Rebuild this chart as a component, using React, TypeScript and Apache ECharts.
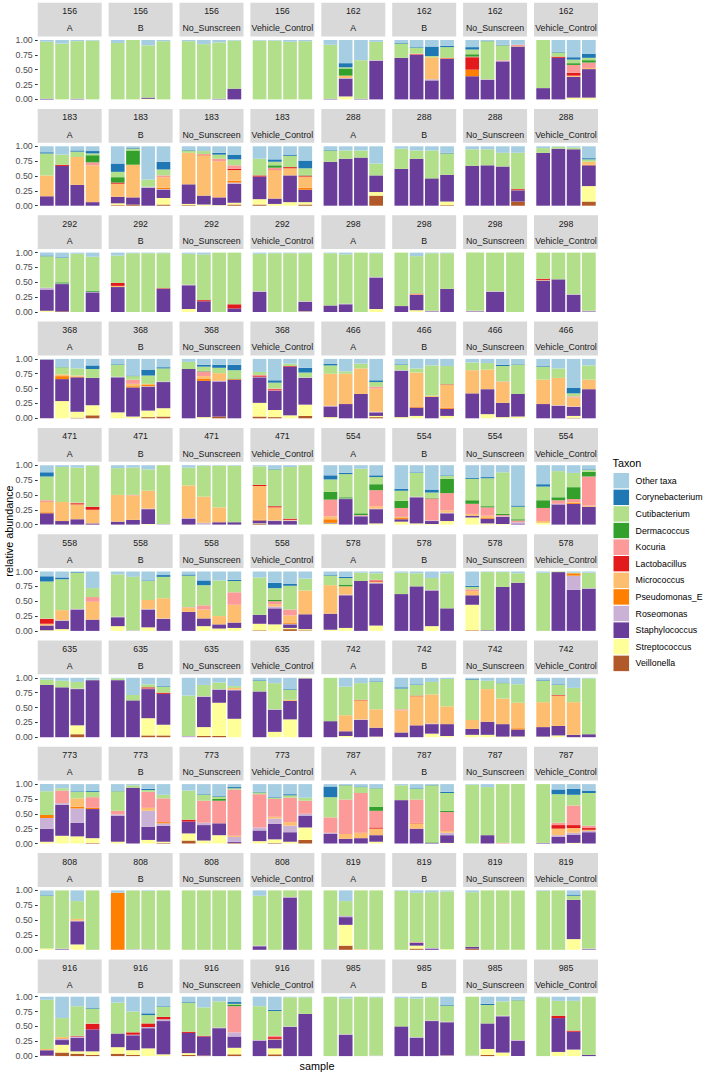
import { useEffect, useRef } from 'react';
import * as echarts from 'echarts';

type Bar = Record<string, number>;

// Taxa in legend order (top of each stack first)
const TAXA = ['Other taxa', 'Corynebacterium', 'Cutibacterium', 'Dermacoccus', 'Kocuria', 'Lactobacillus', 'Micrococcus', 'Pseudomonas_E', 'Roseomonas', 'Staphylococcus', 'Streptococcus', 'Veillonella'];
const TAXON_CODES = ['O', 'Co', 'Cu', 'D', 'K', 'L', 'M', 'P', 'R', 'S', 'St', 'V'];
const TAXON_COLORS = ['#A6CEE3', '#1F78B4', '#B2DF8A', '#33A02C', '#FB9A99', '#E31A1C', '#FDBF6F', '#FF7F00', '#CAB2D6', '#6A3D9A', '#FFFF99', '#B15928'];
const TREATMENTS = ['A', 'B', 'No_Sunscreen', 'Vehicle_Control'];
const SUBJECTS = ['156', '162', '183', '288', '292', '298', '368', '466', '471', '554', '558', '578', '635', '742', '773', '787', '808', '819', '916', '985'];
const Y_TICKS = [0, 0.25, 0.5, 0.75, 1];

// Relative abundance per subject: [A, B, No_Sunscreen, Vehicle_Control], one object per sample
const subj156: Bar[][] = [
  [{ S: .01, Cu: .96, O: .03 }, { Cu: .94, O: .06 }, { S: .01, Cu: .97, O: .02 }, { Cu: .99, O: .01 }],
  [{ Cu: .95, O: .05 }, { Cu: 1 }, { St: .01, S: .02, Cu: .88, O: .09 }, { Cu: .98, O: .02 }],
  [{ Cu: .98, O: .02 }, { Cu: .93, O: .07 }, { S: .01, Cu: .95, O: .04 }, { S: .18, Cu: .81, O: .01 }],
  [{ Cu: .99, O: .01 }, { Cu: .99, O: .01 }, { Cu: .97, O: .03 }, { Cu: .98, O: .02 }],
];
const subj162: Bar[][] = [
  [{ S: .01, Cu: .91, O: .08 }, { St: .05, S: .30, R: .01, M: .04, D: .12, Cu: .02, Co: .07, O: .39 }, { S: .01, Cu: .65, O: .34 }, { S: .65, R: .01, Cu: .31, O: .03 }],
  [{ S: .70, Cu: .24, Co: .01, O: .05 }, { S: .75, L: .01, K: .01, Cu: .10, Co: .01, O: .12 }, { S: .32, R: .02, M: .37, Cu: .02, Co: .16, O: .11 }, { S: .68, M: .01, L: .01, Cu: .18, Co: .02, O: .10 }],
  [{ S: .39, P: .11, L: .21, K: .01, D: .04, Cu: .08, Co: .04, O: .12 }, { S: .33, R: .01, Cu: .64, Co: .01, O: .01 }, { S: .64, R: .01, K: .01, Cu: .25, Co: .01, O: .08 }, { S: .89, M: .01, K: .02, O: .08 }],
  [{ S: .19, Cu: .81 }, { S: .70, L: .02, Cu: .07, Co: .01, O: .20 }, { St: .03, S: .35, M: .02, L: .05, K: .13, D: .03, Cu: .06, Co: .04, O: .29 }, { St: .03, S: .48, M: .02, K: .09, D: .04, Cu: .04, Co: .07, O: .23 }],
];
const subj183: Bar[][] = [
  [{ S: .16, M: .35, Cu: .37, Co: .02, O: .10 }, { S: .67, L: .02, Cu: .17, O: .14 }, { S: .35, M: .47, Cu: .09, Co: .02, O: .07 }, { S: .06, M: .62, K: .05, D: .12, Cu: .03, Co: .04, O: .08 }],
  [{ V: .01, St: .03, S: .11, M: .22, L: .02, D: .09, Cu: .09, Co: .14, O: .29 }, { V: .02, S: .12, M: .55, D: .24, Cu: .03, Co: .01, O: .03 }, { S: .30, R: .02, Cu: .12, O: .56 }, { V: .02, St: .11, S: .14, R: .01, P: .02, M: .18, K: .03, Cu: .10, Co: .13, O: .26 }],
  [{ V: .01, St: .02, S: .33, M: .53, Cu: .04, Co: .01, O: .06 }, { St: .02, S: .15, M: .68, L: .01, K: .01, Cu: .05, O: .08 }, { St: .01, S: .13, M: .61, K: .04, Cu: .07, Co: .03, O: .11 }, { V: .02, St: .03, S: .32, R: .02, P: .03, M: .18, L: .02, K: .06, Cu: .10, Co: .08, O: .14 }],
  [{ V: .02, St: .09, S: .38, L: .02, Cu: .28, O: .21 }, { St: .03, S: .09, M: .48, L: .01, K: .03, D: .04, Cu: .06, Co: .04, O: .22 }, { St: .06, S: .45, M: .12, L: .02, Cu: .19, Co: .02, O: .14 }, { V: .02, St: .04, S: .21, P: .03, M: .19, L: .01, K: .01, D: .01, Cu: .11, Co: .13, O: .24 }],
];
const subj288: Bar[][] = [
  [{ S: .74, Cu: .19, Co: .01, O: .06 }, { S: .79, Cu: .14, O: .07 }, { S: .81, Cu: .12, O: .07 }, { V: .17, St: .06, S: .28, Cu: .20, O: .29 }],
  [{ S: .62, Cu: .34, O: .04 }, { S: .79, Cu: .14, O: .07 }, { S: .46, Cu: .47, O: .07 }, { V: .01, St: .06, S: .45, Cu: .36, Co: .01, O: .11 }],
  [{ S: .67, Cu: .28, O: .05 }, { S: .68, Cu: .27, O: .05 }, { S: .66, Cu: .23, O: .11 }, { V: .07, S: .19, L: .01, M: .01, Cu: .61, O: .11 }],
  [{ S: .89, Cu: .08, O: .03 }, { S: .96, Cu: .03, O: .01 }, { S: .95, Cu: .03, O: .02 }, { V: .07, St: .26, S: .35, P: .01, M: .05, Cu: .04, Co: .02, O: .20 }],
];
const subj292: Bar[][] = [
  [{ St: .02, S: .36, R: .03, Cu: .53, Co: .01, O: .05 }, { V: .01, S: .46, R: .01, D: .02, Cu: .41, Co: .01, O: .08 }, { Cu: .98, O: .02 }, { S: .33, R: .01, D: .02, Cu: .57, O: .07 }],
  [{ S: .42, L: .05, M: .02, Cu: .46, O: .05 }, { Cu: .99, O: .01 }, { Cu: .99, O: .01 }, { S: .39, L: .01, Cu: .59, O: .01 }],
  [{ St: .05, S: .40, R: .01, Cu: .52, O: .02 }, { S: .18, L: .02, Cu: .77, O: .03 }, { Cu: 1 }, { S: .06, L: .07, Cu: .87 }],
  [{ S: .34, R: .01, Cu: .63, O: .02 }, { Cu: .99, O: .01 }, { Cu: .99, O: .01 }, { St: .01, S: .16, R: .01, Cu: .81, O: .01 }],
];
const subj298: Bar[][] = [
  [{ S: .11, Cu: .88, O: .01 }, { S: .13, R: .01, Cu: .83, O: .03 }, { Cu: 1 }, { St: .05, S: .53, R: .01, Cu: .40, O: .01 }],
  [{ S: .10, Cu: .90 }, { St: .03, S: .26, L: .01, M: .01, Cu: .63, O: .06 }, { S: .01, R: .01, Cu: .97, O: .01 }, { S: .39, Cu: .60, O: .01 }],
  [{ S: .01, R: .01, Cu: .98 }, { S: .34, R: .01, Cu: .65 }, { Cu: 1 }],
  [{ S: .53, L: .02, M: .01, Cu: .44 }, { S: .55, Cu: .45 }, { S: .29, R: .01, Cu: .70 }, { S: .01, R: .01, Cu: .98 }],
];
const subj368: Bar[][] = [
  [{ S: .99, O: .01 }, { St: .29, S: .37, P: .05, M: .03, Cu: .12, Co: .01, O: .13 }, { V: .01, St: .10, S: .58, P: .01, M: .02, Cu: .12, O: .16 }, { V: .05, St: .17, S: .46, Cu: .15, Co: .06, O: .11 }],
  [{ St: .10, S: .59, R: .01, Cu: .20, Co: .01, O: .09 }, { St: .03, S: .49, P: .02, M: .04, K: .07, Cu: .06, Co: .01, O: .28 }, { V: .02, St: .11, S: .40, R: .01, P: .02, M: .02, Cu: .14, Co: .10, O: .18 }, { V: .03, St: .14, S: .44, R: .01, Cu: .22, Co: .02, O: .14 }],
  [{ S: .83, Cu: .12, O: .05 }, { St: .02, S: .61, P: .04, M: .04, K: .08, D: .01, Cu: .07, Co: .03, O: .10 }, { V: .03, S: .59, R: .01, M: .13, Cu: .09, Co: .05, O: .10 }, { S: .65, P: .01, D: .01, Cu: .14, Co: .09, O: .10 }],
  [{ V: .03, St: .23, S: .43, R: .01, L: .02, K: .01, Cu: .05, O: .22 }, { V: .02, St: .12, S: .32, R: .01, L: .02, K: .01, Cu: .10, Co: .04, O: .36 }, { St: .05, S: .82, L: .01, Cu: .04, O: .08 }, { V: .04, St: .19, S: .45, R: .01, Cu: .08, Co: .08, O: .15 }],
];
const subj466: Bar[][] = [
  [{ St: .02, S: .18, R: .01, M: .54, Cu: .14, Co: .03, O: .08 }, { S: .24, M: .51, Cu: .04, O: .21 }, { S: .41, M: .43, Cu: .08, O: .08 }, { V: .02, St: .02, S: .06, R: .01, M: .39, K: .03, Cu: .08, Co: .03, O: .36 }],
  [{ St: .02, S: .78, R: .01, Cu: .09, Co: .01, O: .09 }, { St: .04, S: .14, P: .01, M: .58, Cu: .07, O: .16 }, { S: .36, M: .02, Cu: .51, O: .11 }, { St: .04, S: .12, P: .02, M: .38, L: .01, Cu: .31, O: .12 }],
  [{ S: .42, M: .39, Cu: .13, O: .06 }, { St: .07, S: .42, M: .33, Cu: .11, O: .07 }, { St: .02, S: .24, M: .35, K: .01, Cu: .26, Co: .02, O: .10 }, { St: .03, S: .38, Cu: .49, Co: .01, O: .09 }],
  [{ S: .24, M: .41, Cu: .22, Co: .01, O: .12 }, { S: .21, R: .01, M: .46, Cu: .16, O: .16 }, { V: .01, St: .03, S: .15, R: .01, M: .15, K: .02, Cu: .05, Co: .09, O: .49 }, { S: .49, M: .16, Cu: .24, O: .11 }],
];
const subj471: Bar[][] = [
  [{ S: .19, P: .02, M: .17, K: .03, Cu: .40, Co: .07, O: .12 }, { S: .06, M: .32, Cu: .59, O: .03 }, { S: .09, M: .25, L: .02, K: .01, Cu: .59, O: .04 }, { S: .02, M: .23, L: .05, Cu: .69, O: .01 }],
  [{ S: .05, M: .45, Cu: .45, O: .05 }, { S: .08, M: .41, K: .01, Cu: .46, O: .04 }, { St: .01, S: .25, R: .01, M: .30, Cu: .36, O: .07 }, { R: .01, Cu: .99 }],
  [{ S: .10, R: .01, M: .55, Cu: .30, O: .04 }, { R: .03, M: .44, Cu: .52, O: .01 }, { S: .04, M: .25, Cu: .70, O: .01 }, { S: .04, Cu: .95, O: .01 }],
  [{ V: .01, St: .01, S: .05, P: .01, M: .57, L: .02, Cu: .31, O: .02 }, { S: .06, R: .01, M: .22, L: .02, Cu: .62, Co: .01, O: .06 }, { S: .06, R: .01, M: .01, L: .02, Cu: .87, O: .03 }, { Cu: 1 }],
];
const subj554: Bar[][] = [
  [{ St: .02, S: .01, P: .06, M: .05, K: .28, D: .13, Cu: .21, Co: .07, O: .17 }, { S: .43, R: .01, D: .02, Cu: .39, Co: .02, O: .13 }, { S: .14, R: .01, K: .01, D: .03, Cu: .75, O: .06 }, { St: .02, S: .24, R: .01, M: .04, K: .27, D: .10, Cu: .12, Co: .03, O: .17 }],
  [{ St: .05, S: .04, P: .02, M: .02, K: .15, D: .12, Cu: .17, Co: .03, O: .40 }, { St: .02, S: .44, R: .01, Cu: .40, Co: .01, O: .12 }, { St: .01, S: .05, R: .01, K: .37, D: .01, Cu: .09, Co: .05, O: .41 }, { St: .06, S: .13, R: .01, M: .04, K: .29, D: .24, Cu: .05, Co: .01, O: .17 }],
  [{ St: .12, S: .03, M: .03, K: .17, D: .06, Cu: .36, Co: .02, O: .21 }, { St: .02, S: .08, P: .02, M: .03, K: .14, D: .02, Cu: .47, Co: .02, O: .20 }, { St: .01, S: .12, R: .01, K: .02, D: .02, Cu: .70, O: .12 }, { S: .02, R: .02, K: .03, D: .02, Cu: .21, Co: .02, O: .68 }],
  [{ St: .03, M: .03, K: .22, D: .13, Cu: .23, Co: .04, O: .32 }, { S: .34, R: .01, K: .06, D: .05, Cu: .44, O: .10 }, { S: .35, P: .02, M: .01, K: .05, D: .20, Cu: .24, O: .13 }, { S: .30, M: .02, K: .49, D: .08, Cu: .03, Co: .01, O: .07 }],
];
const subj558: Bar[][] = [
  [{ St: .01, S: .08, M: .03, L: .08, K: .01, Cu: .62, Co: .09, O: .08 }, { St: .03, S: .14, R: .01, M: .17, Cu: .52, Co: .03, O: .10 }, { S: .36, R: .01, Cu: .61, Co: .01, O: .01 }, { S: .19, M: .30, K: .08, Cu: .15, O: .28 }],
  [{ St: .08, S: .15, R: .01, Cu: .71, O: .05 }, { R: .01, Cu: .90, O: .09 }, { St: .06, S: .30, R: .01, M: .15, Cu: .32, Co: .01, O: .15 }, { S: .20, R: .01, M: .34, Cu: .36, Co: .03, O: .06 }],
  [{ S: .32, M: .07, K: .01, Cu: .53, Co: .02, O: .05 }, { St: .08, S: .13, M: .15, K: .07, Cu: .34, Co: .08, O: .15 }, { St: .04, S: .07, M: .14, Cu: .60, O: .15 }, { St: .05, S: .09, M: .30, K: .21, Cu: .19, Co: .02, O: .14 }],
  [{ V: .01, St: .11, S: .15, Cu: .63, O: .10 }, { St: .11, S: .27, R: .03, M: .04, K: .05, D: .02, Cu: .20, Co: .09, O: .19 }, { V: .03, St: .02, S: .06, R: .01, P: .02, M: .12, K: .10, Cu: .40, Co: .03, O: .21 }, { V: .01, St: .02, S: .25, M: .40, Cu: .20, O: .12 }],
];
const subj578: Bar[][] = [
  [{ St: .02, S: .27, M: .48, Cu: .16, Co: .01, O: .06 }, { St: .05, S: .55, R: .01, M: .14, D: .03, Cu: .11, Co: .02, O: .09 }, { S: .84, Cu: .14, O: .02 }, { St: .09, S: .71, R: .01, M: .02, L: .02, K: .01, Cu: .11, O: .03 }],
  [{ S: .62, Cu: .36, O: .02 }, { S: .75, Cu: .22, O: .03 }, { St: .08, S: .60, R: .01, Cu: .20, O: .11 }, { S: .38, Cu: .59, O: .03 }],
  [{ V: .01, St: .43, S: .16, M: .07, K: .03, Cu: .04, Co: .02, O: .24 }, { S: .01, Cu: .98, O: .01 }, { S: .74, Cu: .25, O: .01 }, { S: .81, Cu: .16, O: .03 }],
  [{ Cu: .98, O: .02 }, { S: .99, Cu: .01 }, { S: .69, R: .24, P: .04, Cu: .01, O: .02 }, { S: .71, R: .01, Cu: .26, O: .02 }],
];
const subj635: Bar[][] = [
  [{ S: .88, Cu: .09, O: .03 }, { S: .84, Cu: .11, O: .05 }, { V: .05, St: .15, S: .61, R: .01, Cu: .11, O: .07 }, { S: .96, Cu: .01, O: .03 }],
  [{ S: .96, Cu: .03, O: .01 }, { S: .62, Cu: .09, O: .29 }, { V: .03, St: .29, S: .49, R: .01, L: .02, Cu: .05, O: .11 }, { V: .03, St: .18, S: .52, L: .02, Cu: .10, Co: .01, O: .14 }],
  [{ R: .02, Cu: .68, O: .30 }, { V: .02, St: .15, S: .51, R: .01, Cu: .19, O: .12 }, { V: .02, St: .56, S: .22, R: .01, Cu: .11, O: .08 }, { St: .31, S: .48, R: .01, M: .03, Cu: .03, O: .14 }],
  [{ S: .77, Cu: .18, Co: .01, O: .04 }, { St: .09, S: .37, R: .01, Cu: .44, O: .09 }, { St: .30, S: .31, M: .02, Cu: .17, Co: .01, O: .19 }, { S: .99, Cu: .01 }],
];
const subj742: Bar[][] = [
  [{ S: .27, Cu: .73 }, { St: .02, S: .08, M: .27, Cu: .48, O: .15 }, { S: .29, R: .01, M: .32, L: .01, Cu: .28, O: .09 }, { St: .01, S: .15, M: .31, Cu: .46, Co: .01, O: .06 }],
  [{ S: .08, M: .37, K: .02, Cu: .35, Co: .02, O: .16 }, { S: .20, M: .49, L: .01, Cu: .18, Co: .01, O: .11 }, { St: .06, S: .16, R: .01, M: .49, Cu: .21, O: .07 }, { St: .02, S: .20, M: .30, Cu: .46, O: .02 }],
  [{ St: .04, S: .10, M: .15, Cu: .68, Co: .01, O: .02 }, { St: .04, S: .22, M: .55, Cu: .14, O: .05 }, { St: .01, S: .21, M: .43, Cu: .26, Co: .01, O: .08 }, { St: .01, S: .12, P: .02, M: .43, Cu: .31, O: .11 }],
  [{ St: .01, S: .16, M: .42, Cu: .36, Co: .01, O: .04 }, { St: .03, S: .16, M: .51, L: .01, Cu: .17, Co: .01, O: .11 }, { S: .04, M: .55, Cu: .24, O: .17 }, { S: .05, Cu: .94, O: .01 }],
];
const subj773: Bar[][] = [
  [{ St: .03, S: .22, R: .18, P: .05, Cu: .40, O: .12 }, { St: .13, S: .52, R: .03, K: .21, Cu: .04, O: .07 }, { St: .12, S: .23, R: .24, P: .03, M: .14, Cu: .11, Co: .01, O: .12 }, { V: .01, St: .08, S: .49, P: .02, K: .18, Cu: .09, Co: .02, O: .11 }],
  [{ St: .03, S: .44, R: .02, K: .06, Cu: .33, Co: .01, O: .11 }, { S: .94, Cu: .04, O: .02 }, { St: .06, S: .22, R: .27, M: .05, K: .27, Cu: .03, Co: .02, O: .08 }, { V: .01, St: .02, S: .27, R: .04, P: .02, K: .40, Cu: .06, O: .18 }],
  [{ V: .05, St: .12, S: .20, L: .03, Cu: .49, O: .11 }, { St: .05, S: .26, R: .04, K: .37, Cu: .10, Co: .01, O: .17 }, { St: .14, S: .20, K: .38, D: .03, Cu: .04, Co: .01, O: .20 }, { V: .01, S: .02, R: .08, M: .02, K: .78, Cu: .02, Co: .02, O: .05 }],
  [{ St: .04, S: .18, R: .05, K: .56, Cu: .03, Co: .01, O: .13 }, { V: .01, St: .06, S: .26, R: .09, M: .03, K: .30, Cu: .02, Co: .01, O: .22 }, { St: .03, S: .16, R: .11, M: .06, K: .41, Cu: .04, Co: .02, O: .17 }, { V: .06, St: .21, S: .20, R: .03, K: .22, Cu: .05, O: .23 }],
];
const subj787: Bar[][] = [
  [{ S: .16, R: .02, K: .26, Cu: .34, Co: .18, O: .04 }, { S: .08, M: .08, K: .58, Cu: .24, Co: .01, O: .01 }, { S: .09, M: .09, K: .67, Cu: .10, Co: .01, O: .04 }, { St: .03, S: .11, M: .11, L: .02, K: .28, D: .07, Cu: .31, Co: .01, O: .06 }],
  [{ S: .73, Cu: .25, O: .02 }, { S: .25, M: .09, L: .01, K: .39, Cu: .18, Co: .01, O: .07 }, { S: .01, D: .01, Cu: .96, Co: .01, O: .01 }, { St: .01, S: .13, R: .04, M: .03, K: .32, D: .02, Cu: .30, Co: .02, O: .13 }],
  [{ Cu: .99, O: .01 }, { S: .14, Cu: .81, O: .05 }, { K: .01, Cu: .99 }, { Cu: 1 }],
  [{ S: .01, Cu: .99 }, { S: .11, R: .03, M: .11, L: .06, K: .04, Cu: .48, Co: .08, O: .09 }, { St: .01, S: .14, R: .03, M: .08, L: .05, K: .33, Cu: .18, Co: .10, O: .08 }, { S: .19, R: .02, M: .02, L: .03, K: .04, Cu: .55, Co: .04, O: .11 }],
];
const subj808: Bar[][] = [
  [{ St: .02, Cu: .89, Co: .01, O: .08 }, { S: .01, R: .01, Cu: .98 }, { St: .09, S: .39, R: .01, M: .03, Cu: .30, O: .18 }, { Cu: 1 }],
  [{ P: .96, O: .04 }, { R: .01, Cu: .99 }, { R: .01, Cu: .98, O: .01 }, { Cu: 1 }],
  [{ Cu: 1 }, { Cu: 1 }, { Cu: 1 }, { Cu: 1 }],
  [{ S: .06, R: .01, Cu: .84, O: .09 }, { Cu: 1 }, { S: .88, R: .01, Cu: .11 }, { Cu: 1 }],
];
const subj819: Bar[][] = [
  [{ R: .01, Cu: .99 }, { V: .07, St: .35, S: .13, R: .02, Cu: .25, O: .18 }, { M: .01, Cu: .99 }, { Cu: 1 }],
  [{ Cu: .99, O: .01 }, { V: .02, St: .05, S: .05, K: .01, Cu: .83, O: .04 }, { S: .02, R: .01, Cu: .94, O: .03 }, { St: .01, Cu: .97, O: .02 }],
  [{ V: .02, S: .03, Cu: .92, O: .03 }, { Cu: 1 }, { Cu: 1 }, { Cu: 1 }],
  [{ Cu: .99, O: .01 }, { Cu: 1 }, { St: .18, S: .66, Cu: .07, Co: .02, O: .07 }, { S: .01, R: .01, Cu: .98 }],
];
const subj916: Bar[][] = [
  [{ V: .01, S: .09, M: .02, Cu: .83, O: .05 }, { V: .06, St: .13, S: .08, R: .02, P: .01, M: .02, Cu: .32, O: .36 }, { V: .04, St: .04, S: .23, R: .02, L: .01, Cu: .50, O: .16 }, { V: .02, St: .06, S: .37, L: .09, K: .01, Cu: .25, Co: .01, O: .19 }],
  [{ V: .04, St: .11, S: .23, Cu: .52, O: .10 }, { V: .02, St: .08, S: .25, R: .01, L: .04, Cu: .35, O: .25 }, { St: .13, S: .34, R: .02, L: .06, Cu: .14, Co: .03, O: .28 }, { St: .03, S: .56, R: .03, L: .04, Cu: .17, Co: .01, O: .16 }],
  [{ V: .02, St: .03, S: .34, L: .02, Cu: .49, Co: .01, O: .09 }, { V: .01, S: .32, L: .01, Cu: .48, O: .18 }, { S: .47, R: .01, Cu: .44, O: .08 }, { V: .03, St: .11, S: .19, R: .07, K: .44, D: .02, Cu: .02, Co: .03, O: .09 }],
  [{ S: .26, R: .01, Cu: .57, O: .16 }, { V: .03, St: .10, S: .15, M: .01, L: .03, K: .02, Cu: .42, Co: .02, O: .22 }, { S: .49, R: .01, Cu: .49, O: .01 }, { S: .71, Cu: .28, O: .01 }],
];
const subj985: Bar[][] = [
  [{ Cu: 1 }, { S: .36, R: .01, Cu: .60, O: .03 }, { Cu: 1 }, { R: .01, Cu: .98, O: .01 }],
  [{ S: .50, Cu: .48, O: .02 }, { S: .31, R: .01, Cu: .65, O: .03 }, { S: .59, R: .01, Cu: .39, O: .01 }, { St: .01, S: .56, R: .01, Cu: .27, Co: .01, O: .14 }],
  [{ R: .01, Cu: .99 }, { V: .02, St: .10, S: .43, Cu: .31, Co: .02, O: .12 }, { St: .06, S: .61, R: .01, Cu: .24, O: .08 }, { S: .26, R: .01, Cu: .67, Co: .01, O: .05 }],
  [{ Cu: .99, O: .01 }, { St: .07, S: .57, L: .04, Cu: .25, O: .07 }, { St: .11, S: .30, L: .02, Cu: .50, O: .07 }, { S: .02, Cu: .98 }],
];

const ABUNDANCE: Record<string, Bar[][]> = {
  '156': subj156, '162': subj162, '183': subj183, '288': subj288, '292': subj292,
  '298': subj298, '368': subj368, '466': subj466, '471': subj471, '554': subj554,
  '558': subj558, '578': subj578, '635': subj635, '742': subj742, '773': subj773,
  '787': subj787, '808': subj808, '819': subj819, '916': subj916, '985': subj985,
};

const FONT = '"Liberation Sans", Arial, Helvetica, sans-serif';

// Facet layout (pixels)
const PANEL_X0 = 37.7;
const PANEL_DX = 70.9;
const PANEL_W = 64;
const GRID_Y0 = 40;      // y of value 1.00 in the first row
const ROW_DY = 106.3;
const UNIT_H = 59.4;     // height of the 0..1 range
const STRIP_GAP = 37.3;  // from strip top down to the 1.00 line
const STRIP_H = 33.8;
const SMALL = 8.8;
const TITLE = 10.8;

function buildOption() {
  const grid: any[] = [];
  const xAxis: any[] = [];
  const yAxis: any[] = [];
  const series: any[] = [];
  const graphic: any[] = [];

  SUBJECTS.forEach((subject, si) => {
    TREATMENTS.forEach((treatment, ti) => {
      const p = si * 4 + ti;
      const row = Math.floor(si / 2);
      const col = (si % 2) * 4 + ti;
      const bars = ABUNDANCE[subject][ti];
      const n = bars.length;
      const left = PANEL_X0 + col * PANEL_DX;
      const gridTop = GRID_Y0 + row * ROW_DY;
      const band = PANEL_W / (n + 0.2);
      const inset = 0.1 * band;

      grid.push({ left: left + inset, top: gridTop, width: n * band, height: UNIT_H, containLabel: false });
      xAxis.push({
        type: 'category', gridIndex: p, boundaryGap: true,
        data: bars.map((_, i) => `${subject}_${treatment}_${i + 1}`),
        axisLine: { show: false }, axisTick: { show: false }, axisLabel: { show: false }, splitLine: { show: false },
      });
      yAxis.push({
        type: 'value', gridIndex: p, min: 0, max: 1, interval: 0.25, offset: inset,
        axisLine: { show: false }, splitLine: { show: false },
        axisTick: { show: col === 0, length: 2.7, lineStyle: { color: '#333333', width: 1 }, customValues: Y_TICKS },
        axisLabel: {
          show: col === 0, margin: 5, fontSize: SMALL, color: '#4D4D4D', fontFamily: FONT,
          customValues: Y_TICKS, formatter: (v: number) => v.toFixed(2),
        },
      });

      for (let k = TAXA.length - 1; k >= 0; k--) {
        const code = TAXON_CODES[k];
        const values = bars.map((b) => b[code] ?? 0);
        if (values.every((v) => v === 0)) continue;
        series.push({
          type: 'bar', name: TAXA[k], xAxisIndex: p, yAxisIndex: p, stack: 'panel' + p,
          data: values, barWidth: '90%', silent: true,
          itemStyle: { color: TAXON_COLORS[k] },
          emphasis: { disabled: true },
        });
      }

      const stripTop = gridTop - STRIP_GAP;
      graphic.push({ type: 'rect', silent: true, shape: { x: left, y: stripTop, width: PANEL_W, height: STRIP_H }, style: { fill: '#D9D9D9' } });
      graphic.push({ type: 'text', silent: true, x: left + PANEL_W / 2, y: stripTop + 8.4, style: { text: subject, fontSize: SMALL, fontFamily: FONT, fill: '#1A1A1A', textAlign: 'center', textVerticalAlign: 'middle' } });
      graphic.push({ type: 'text', silent: true, x: left + PANEL_W / 2, y: stripTop + 25.6, style: { text: treatment, fontSize: SMALL, fontFamily: FONT, fill: '#1A1A1A', textAlign: 'center', textVerticalAlign: 'middle' } });
    });
  });

  // Legend
  const legendX = 613;
  const keyTop = 472.5;
  const keySize = 16.6;
  graphic.push({ type: 'text', silent: true, x: legendX - 0.5, y: 463, style: { text: 'Taxon', fontSize: TITLE, fontFamily: FONT, fill: '#000000', textAlign: 'left', textVerticalAlign: 'middle' } });
  TAXA.forEach((name, i) => {
    const y = keyTop + i * keySize;
    graphic.push({ type: 'rect', silent: true, shape: { x: legendX, y, width: keySize, height: keySize }, style: { fill: TAXON_COLORS[i], stroke: '#FFFFFF', lineWidth: 1 } });
    graphic.push({ type: 'text', silent: true, x: legendX + keySize + 6, y: y + keySize / 2, style: { text: name, fontSize: SMALL, fontFamily: FONT, fill: '#000000', textAlign: 'left', textVerticalAlign: 'middle' } });
  });

  // Axis titles
  graphic.push({ type: 'text', silent: true, x: 9, y: 531, rotation: Math.PI / 2, style: { text: 'relative abundance', fontSize: TITLE, fontFamily: FONT, fill: '#000000', textAlign: 'center', textVerticalAlign: 'middle' } });
  graphic.push({ type: 'text', silent: true, x: 317, y: 1066, style: { text: 'sample', fontSize: TITLE, fontFamily: FONT, fill: '#000000', textAlign: 'center', textVerticalAlign: 'middle' } });

  return {
    animation: false,
    backgroundColor: '#FFFFFF',
    textStyle: { fontFamily: FONT },
    grid, xAxis, yAxis, series, graphic,
  };
}

export default function App() {
  const ref = useRef<HTMLDivElement>(null);
  useEffect(() => {
    if (!ref.current) return;
    const chart = echarts.init(ref.current, null, { renderer: 'svg' });
    chart.setOption(buildOption());
    return () => chart.dispose();
  }, []);
  return <div ref={ref} style={{ position: 'absolute', left: 0, top: 0, width: 707, height: 1072 }} />;
}
